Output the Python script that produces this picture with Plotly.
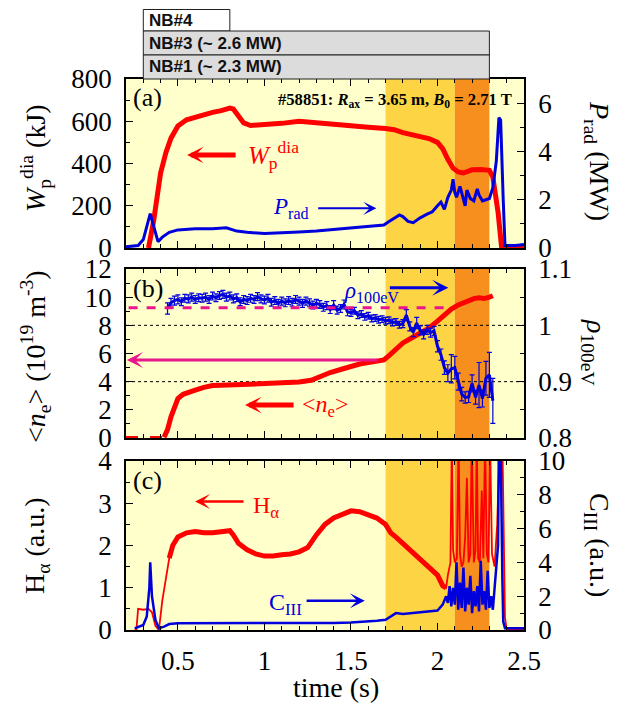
import plotly.graph_objects as go

# ------------------------------------------------------------------ data
# (a) stored energy W_p^dia (kJ) and radiated power P_rad (MW)
t_w = [0.33, 0.36, 0.40, 0.43, 0.46, 0.50, 0.55, 0.60, 0.65, 0.70, 0.75, 0.80,
       0.82, 0.85, 0.88, 0.92, 1.00, 1.10, 1.20, 1.30, 1.40, 1.50, 1.60, 1.70,
       1.75, 1.80, 1.85, 1.90, 1.95, 2.00, 2.03, 2.06, 2.09, 2.12, 2.15, 2.20,
       2.25, 2.30, 2.32, 2.35, 2.37, 2.40, 2.50]
w_dia = [0, 130, 355, 450, 520, 578, 607, 620, 632, 642, 650, 662,
         658, 625, 592, 580, 582, 590, 600, 592, 585, 578, 572, 566,
         560, 546, 536, 528, 518, 500, 470, 420, 378, 360, 355, 370,
         372, 368, 335, 170, 8, 0, 0]

t_p = [0.20, 0.27, 0.30, 0.32, 0.34, 0.36, 0.385, 0.41, 0.45, 0.50, 0.60, 0.70,
       0.78, 0.84, 0.90, 1.00, 1.10, 1.20, 1.30, 1.40, 1.50, 1.60, 1.69, 1.72,
       1.75, 1.78, 1.80, 1.83, 1.86, 1.90, 1.94, 1.97, 2.00, 2.02, 2.04, 2.06,
       2.08, 2.09, 2.10, 2.11, 2.13, 2.15, 2.16, 2.17, 2.19, 2.21, 2.23, 2.24,
       2.26, 2.28, 2.30, 2.32, 2.34, 2.355, 2.365, 2.38, 2.39, 2.45, 2.50]
p_rad = [0.05, 0.10, 0.35, 0.90, 1.42, 0.90, 0.26, 0.45, 0.65, 0.75, 0.80, 0.80,
         0.84, 0.70, 0.65, 0.60, 0.62, 0.66, 0.70, 0.76, 0.82, 0.88, 0.95, 1.10,
         1.25, 1.37, 1.30, 1.10, 1.05, 1.25, 1.40, 1.50, 1.75, 1.90, 1.60, 2.10,
         2.40, 2.85, 2.30, 2.10, 2.55, 2.00, 1.75, 2.40, 2.05, 1.95, 2.45, 2.20,
         1.95, 2.00, 2.05, 2.50, 3.60, 5.40, 5.30, 2.00, 0.10, 0.10, 0.15]

# (b) line-averaged density <n_e> (1e19 m^-3) and rho_100eV
t_ne_pre = [0.20, 0.42]
ne_pre = [0.0, 0.0]
t_ne = [0.42, 0.44, 0.46, 0.48, 0.50, 0.53, 0.56, 0.60, 0.65, 0.70, 0.75, 0.80,
        0.90, 1.00, 1.10, 1.20, 1.27, 1.32, 1.38, 1.45, 1.50, 1.55, 1.60, 1.65,
        1.69, 1.72, 1.76, 1.80, 1.85, 1.90, 1.95, 2.00, 2.05, 2.08, 2.12, 2.17,
        2.21, 2.24, 2.27, 2.30, 2.32]
ne = [0.05, 0.60, 1.50, 2.30, 2.80, 3.10, 3.25, 3.40, 3.60, 3.72, 3.74, 3.76,
      3.80, 3.85, 3.90, 3.97, 4.10, 4.35, 4.65, 4.90, 5.10, 5.25, 5.35, 5.45,
      5.55, 5.85, 6.30, 6.75, 7.10, 7.45, 7.80, 8.30, 8.85, 9.15, 9.45, 9.70,
      9.90, 9.95, 9.90, 10.00, 10.10]

t_rho = [0.44, 0.46, 0.48, 0.50, 0.52, 0.54, 0.56, 0.58, 0.60, 0.62, 0.64, 0.66,
         0.68, 0.70, 0.72, 0.74, 0.76, 0.78, 0.80, 0.82, 0.84, 0.86, 0.88, 0.90,
         0.92, 0.94, 0.96, 0.98, 1.00, 1.02, 1.04, 1.06, 1.08, 1.10, 1.12, 1.14,
         1.16, 1.18, 1.20, 1.22, 1.24, 1.26, 1.28, 1.30, 1.32, 1.34, 1.36, 1.38,
         1.40, 1.42, 1.44, 1.46, 1.48, 1.50, 1.52, 1.54, 1.56, 1.58, 1.60, 1.62,
         1.64, 1.66, 1.68, 1.70, 1.72, 1.74, 1.76, 1.78, 1.80, 1.82, 1.84, 1.86,
         1.88, 1.90, 1.92, 1.94, 1.96, 1.98, 2.00, 2.02, 2.04, 2.06, 2.08, 2.10,
         2.12, 2.14, 2.16, 2.18, 2.20, 2.22, 2.24, 2.26, 2.28, 2.30, 2.32]
rho = [1.030, 1.040, 1.044, 1.046, 1.042, 1.048, 1.047, 1.050, 1.046, 1.049, 1.048, 1.050,
       1.046, 1.052, 1.049, 1.053, 1.055, 1.050, 1.052, 1.047, 1.049, 1.042, 1.046, 1.044,
       1.048, 1.046, 1.051, 1.047, 1.045, 1.048, 1.041, 1.044, 1.039, 1.043, 1.040, 1.044,
       1.041, 1.046, 1.043, 1.039, 1.043, 1.040, 1.036, 1.039, 1.037, 1.032, 1.035, 1.028,
       1.036, 1.027, 1.030, 1.037, 1.024, 1.022, 1.026, 1.018, 1.020, 1.015, 1.017, 1.012,
       1.013, 1.010, 1.011, 1.008, 1.009, 1.005, 1.006, 1.001, 1.003, 1.018, 0.998, 0.988,
       1.004, 0.991, 0.984, 0.992, 0.987, 0.990, 0.963, 0.948, 0.925, 0.915, 0.923, 0.925,
       0.900, 0.878, 0.872, 0.873, 0.897, 0.872, 0.894, 0.870, 0.906, 0.912, 0.866]
rho_err = [0.010, 0.008, 0.008, 0.008, 0.007, 0.007, 0.007, 0.007, 0.007, 0.007, 0.007, 0.007,
           0.007, 0.007, 0.007, 0.007, 0.007, 0.007, 0.007, 0.007, 0.007, 0.007, 0.007, 0.007,
           0.007, 0.007, 0.007, 0.007, 0.007, 0.007, 0.007, 0.007, 0.007, 0.007, 0.007, 0.007,
           0.007, 0.007, 0.007, 0.007, 0.007, 0.007, 0.007, 0.007, 0.007, 0.007, 0.007, 0.007,
           0.008, 0.007, 0.007, 0.008, 0.007, 0.006, 0.006, 0.006, 0.006, 0.006, 0.006, 0.006,
           0.006, 0.006, 0.006, 0.006, 0.006, 0.006, 0.006, 0.006, 0.007, 0.010, 0.008, 0.008,
           0.010, 0.008, 0.008, 0.008, 0.008, 0.008, 0.010, 0.010, 0.012, 0.015, 0.025, 0.020,
           0.015, 0.012, 0.010, 0.010, 0.015, 0.012, 0.040, 0.015, 0.030, 0.040, 0.040]

# (c) H_alpha (a.u.) and C_III (a.u.)
t_ha = [0.25, 0.26, 0.27, 0.30, 0.33, 0.35, 0.37, 0.39, 0.41, 0.43, 0.45, 0.47,
        0.50, 0.55, 0.60, 0.65, 0.70, 0.75, 0.80, 0.82, 0.85, 0.90, 0.95, 1.00,
        1.05, 1.10, 1.15, 1.20, 1.25, 1.30, 1.35, 1.40, 1.45, 1.50, 1.55, 1.60,
        1.65, 1.70, 1.73, 1.76, 1.80, 1.85, 1.90, 1.95, 2.00, 2.03, 2.05, 2.06,
        2.075, 2.083, 2.09, 2.10, 2.112, 2.122, 2.13, 2.14, 2.15, 2.16, 2.17, 2.18,
        2.19, 2.198, 2.21, 2.22, 2.227, 2.235, 2.245, 2.256, 2.265, 2.275, 2.285, 2.295,
        2.304, 2.315, 2.33, 2.345, 2.36, 2.375, 2.39, 2.40, 2.50]
h_alpha = [0.0, 0.0, 0.50, 0.48, 0.50, 0.42, 0.10, 0.0, 0.70, 1.20, 1.70, 2.00,
           2.20, 2.30, 2.33, 2.30, 2.30, 2.32, 2.35, 2.25, 2.05, 1.90, 1.80, 1.75,
           1.75, 1.78, 1.80, 1.85, 1.95, 2.25, 2.50, 2.65, 2.75, 2.82, 2.80, 2.72,
           2.65, 2.50, 2.30, 2.20, 2.05, 1.85, 1.65, 1.50, 1.30, 1.05, 1.00, 1.30,
           1.60, 4.50, 1.90, 1.60, 1.70, 4.50, 1.80, 1.50, 1.60, 2.20, 3.60, 1.60,
           1.80, 4.50, 1.60, 1.90, 4.50, 1.70, 1.60, 3.30, 1.70, 4.50, 1.80, 1.60,
           4.50, 1.80, 1.50, 2.50, 4.50, 4.50, 0.30, 0.0, 0.0]

t_c3 = [0.25, 0.30, 0.32, 0.335, 0.34, 0.35, 0.37, 0.39, 0.42, 0.45, 0.50, 0.60,
        0.80, 1.00, 1.20, 1.40, 1.50, 1.60, 1.65, 1.70, 1.73, 1.76, 1.80, 1.85,
        1.90, 1.95, 2.00, 2.03, 2.05, 2.06, 2.07, 2.08, 2.09, 2.10, 2.11, 2.12,
        2.13, 2.14, 2.15, 2.16, 2.17, 2.18, 2.19, 2.20, 2.21, 2.22, 2.23, 2.24,
        2.25, 2.26, 2.27, 2.28, 2.29, 2.30, 2.31, 2.32, 2.33, 2.34, 2.35, 2.355,
        2.365, 2.375, 2.38, 2.39, 2.50]
c_iii = [0.10, 0.30, 0.80, 2.50, 4.00, 2.00, 0.60, 0.10, 0.20, 0.35, 0.40, 0.40,
         0.38, 0.38, 0.38, 0.42, 0.45, 0.50, 0.55, 0.60, 0.80, 1.00, 0.95, 1.00,
         1.05, 1.10, 1.15, 1.50, 2.00, 1.60, 2.60, 1.40, 2.50, 1.50, 4.00, 1.20,
         2.80, 1.30, 3.70, 1.10, 2.50, 1.50, 3.20, 1.00, 2.30, 1.40, 2.60, 1.10,
         4.10, 1.50, 2.30, 1.20, 3.50, 1.30, 2.00, 1.20, 2.50, 3.50, 5.00, 11.0,
         11.0, 3.00, 0.50, 0.10, 0.10]

# heating / phase timing (s)
phase_edges = [1.7, 2.1, 2.3]
nb_names = ["NB#4", "NB#3 (~ 2.6 MW)", "NB#1 (~ 2.3 MW)"]
nb_on = [0.3, 0.3, 0.3]
nb_off = [0.8, 2.3, 2.3]

# axis ticks
x_ticks = [0.5, 1.0, 1.5, 2.0, 2.5]
x_ticktext = ["0.5", "1", "1.5", "2", "2.5"]
rho_ticks = [0.8, 0.9, 1.0, 1.1]
rho_ticktext = ["0.8", "0.9", "1", "1.1"]

# ------------------------------------------------------------------ layout helpers
# the page body keeps the browser's default 8 px margin, so the figure is
# made 8 px smaller and every window-pixel position is shifted accordingly
WIN_W, WIN_H, OFF = 634, 704, 8
FW, FH = WIN_W - OFF, WIN_H - OFF
def px_x(p):
    return (p - OFF) / FW
def px_y(p):
    return 1 - (p - OFF) / FH

X_DOM = [px_x(126), px_x(524)]
DOM_A = [px_y(248), px_y(79)]
DOM_B = [px_y(438), px_y(269)]
DOM_C = [px_y(630), px_y(461)]

SERIF = "Liberation Serif"
SANS = "Liberation Sans"
RED = "#FF0000"
BLUE = "#0000DC"
MAG = "#E8168A"
BG = "#FFFFCC"
YEL = "#FDD444"
ORA = "#F78F1E"

fig = go.Figure()

# ------------------------------------------------------------------ traces
fig.add_trace(go.Scatter(x=t_w, y=w_dia, xaxis="x", yaxis="y", mode="lines",
                         line=dict(color=RED, width=5)))
fig.add_trace(go.Scatter(x=t_p, y=p_rad, xaxis="x", yaxis="y2", mode="lines",
                         line=dict(color=BLUE, width=3)))

fig.add_trace(go.Scatter(x=t_ne_pre, y=ne_pre, xaxis="x2", yaxis="y3", mode="lines",
                         line=dict(color=RED, width=4, dash="dash")))
fig.add_trace(go.Scatter(x=t_ne, y=ne, xaxis="x2", yaxis="y3", mode="lines",
                         line=dict(color=RED, width=5)))
fig.add_trace(go.Scatter(x=t_rho, y=rho, xaxis="x2", yaxis="y4", mode="lines",
                         line=dict(color=BLUE, width=3),
                         error_y=dict(type="data", array=rho_err, color=BLUE,
                                      thickness=1.2, width=2.5)))

# H_alpha: thin full trace + thicker band for the noisy steady phase
fig.add_trace(go.Scatter(x=t_ha, y=h_alpha, xaxis="x3", yaxis="y5", mode="lines",
                         line=dict(color=RED, width=1.8)))
i0, i1 = t_ha.index(0.45), t_ha.index(2.05)
fig.add_trace(go.Scatter(x=t_ha[i0:i1 + 1], y=h_alpha[i0:i1 + 1], xaxis="x3", yaxis="y5",
                         mode="lines", line=dict(color=RED, width=5)))
fig.add_trace(go.Scatter(x=t_c3, y=c_iii, xaxis="x3", yaxis="y6", mode="lines",
                         line=dict(color=BLUE, width=2.5)))

# ------------------------------------------------------------------ axes
def ax_common():
    return dict(showline=True, linecolor="black", linewidth=1.5, ticks="inside",
                ticklen=7, tickwidth=1.2, tickcolor="black", showgrid=False,
                zeroline=False, automargin=False,
                tickfont=dict(family=SERIF, size=27, color="black"))

def xax(anchor, labels):
    d = ax_common()
    d.update(domain=X_DOM, anchor=anchor, range=[0.2, 2.5], mirror="ticks",
             tickmode="array", tickvals=x_ticks, ticktext=x_ticktext,
             showticklabels=labels, ticklabelstandoff=6,
             minor=dict(tickmode="linear", tick0=0.2, dtick=0.1, ticks="inside",
                        ticklen=4, tickcolor="black", tickwidth=1))
    return d

def yax(dom, anchor, rng, dtick, mdtick, side="left", overlay=None, **kw):
    d = ax_common()
    d.update(anchor=anchor, range=rng, side=side, ticklabelstandoff=7,
             minor=dict(tickmode="linear", tick0=rng[0], dtick=mdtick, ticks="inside",
                        ticklen=4, tickcolor="black", tickwidth=1))
    if dtick is not None:
        d.update(tick0=rng[0], dtick=dtick)
    if overlay:
        d.update(overlaying=overlay)
    else:
        d.update(domain=dom)
    d.update(kw)
    return d

fig.update_layout(
    xaxis=xax("y", False),
    xaxis2=xax("y3", False),
    xaxis3=xax("y5", True),
    yaxis=yax(DOM_A, "x", [0, 800], 200, 100),
    yaxis2=yax(None, "x", [0, 7], 2, 1, side="right", overlay="y"),
    yaxis3=yax(DOM_B, "x2", [0, 12], 2, 1),
    yaxis4=yax(None, "x2", [0.8, 1.1], None, 0.05, side="right", overlay="y3",
               tickmode="array", tickvals=rho_ticks, ticktext=rho_ticktext),
    yaxis5=yax(DOM_C, "x3", [0, 4], 1, 0.5),
    yaxis6=yax(None, "x3", [0, 10], 2, 1, side="right", overlay="y5"),
)
fig.update_xaxes(matches="x")

# ------------------------------------------------------------------ shapes
shapes = []
for yd in ["y domain", "y3 domain", "y5 domain"]:
    shapes.append(dict(type="rect", xref="x", yref=yd, x0=phase_edges[0], x1=phase_edges[1],
                       y0=0, y1=1, fillcolor=YEL, line=dict(width=0), layer="below"))
    shapes.append(dict(type="rect", xref="x", yref=yd, x0=phase_edges[1], x1=phase_edges[2],
                       y0=0, y1=1, fillcolor=ORA, line=dict(width=0), layer="below"))
for lvl in [4, 8]:
    shapes.append(dict(type="line", xref="x2 domain", yref="y3", x0=0, x1=1, y0=lvl, y1=lvl,
                       line=dict(color="black", width=1, dash="dot"), layer="below"))
# magenta guide lines in (b)
shapes.append(dict(type="line", xref="x2", yref="y3", x0=0.215, x1=2.06, y0=9.25, y1=9.25,
                   line=dict(color=MAG, width=3, dash="dash")))

# NB bars above panel (a)
nb_rows = [(9.5, 31), (31, 55), (55, 79)]
nb_fill = ["white", "#DCDCDC", "#DCDCDC"]
annotations = []
for name, on, off, (ytop, ybot), fc in zip(nb_names, nb_on, nb_off, nb_rows, nb_fill):
    shapes.append(dict(type="rect", xref="x", yref="paper", x0=on, x1=off,
                       y0=px_y(ybot), y1=px_y(ytop), fillcolor=fc,
                       line=dict(color="#222222", width=1)))
    annotations.append(dict(xref="x", yref="paper", x=on, y=px_y((ytop + ybot) / 2),
                            xanchor="left", yanchor="middle", xshift=4, showarrow=False,
                            text="<b>" + name + "</b>",
                            font=dict(family=SANS, size=17, color="#111111")))

# ------------------------------------------------------------------ text labels
def lab(text, x, y, xref, yref, color="black", size=26, xanchor="left"):
    annotations.append(dict(text=text, x=x, y=y, xref=xref, yref=yref, showarrow=False,
                            xanchor=xanchor, yanchor="middle",
                            font=dict(family=SERIF, size=size, color=color)))

lab("(a)", 0.228, 712, "x", "y")
lab("(b)", 0.228, 10.6, "x2", "y3")
lab("(c)", 0.228, 3.55, "x3", "y5")
lab("<b>#58851: <i>R</i><sub>ax</sub> = 3.65 m, <i>B</i><sub>0</sub> = 2.71 T</b>",
    2.44, 700, "x", "y", size=16.6, xanchor="right")
lab("<i>W</i><sub>p</sub><sup>dia</sup>", 0.895, 440, "x", "y", color=RED, size=25)
lab("<i>P</i><sub>rad</sub>", 1.04, 190, "x", "y", color=BLUE, size=23)
lab("<i>ρ</i><sub>100eV</sub>", 1.45, 10.4, "x2", "y3", color=BLUE, size=23)
lab("&lt;<i>n</i><sub>e</sub>&gt;", 1.205, 2.3, "x2", "y3", color=RED, size=24)
lab("H<sub>α</sub>", 0.925, 2.92, "x3", "y5", color=RED, size=24)
lab("C<sub>III</sub>", 1.012, 0.62, "x3", "y5", color=BLUE, size=24)

# arrows
def arrow(x_head, x_tail, y, xref, yref, color, width, size):
    annotations.append(dict(text="", x=x_head, y=y, ax=x_tail, ay=y, xref=xref, yref=yref,
                            axref=xref, ayref=yref, showarrow=True, arrowhead=3,
                            arrowsize=size, arrowwidth=width, arrowcolor=color, standoff=0))

arrow(0.553, 0.842, 440, "x", "y", RED, 5, 0.55)
arrow(1.647, 1.302, 188, "x", "y", BLUE, 2, 1.1)
arrow(2.063, 1.716, 10.67, "x2", "y3", BLUE, 3, 0.9)
arrow(0.888, 1.177, 2.34, "x2", "y3", RED, 5, 0.55)
arrow(0.205, 0.235, 9.25, "x2", "y3", MAG, 3, 0.9)
arrow(0.205, 1.66, 5.54, "x2", "y3", MAG, 3, 0.9)
arrow(0.599, 0.888, 3.04, "x3", "y5", RED, 2.5, 1.0)
arrow(1.58, 1.235, 0.69, "x3", "y5", BLUE, 2.5, 1.0)

# axis titles
def title(text, xp, yp, angle):
    annotations.append(dict(text=text, x=px_x(xp), y=px_y(yp), xref="paper", yref="paper",
                            showarrow=False, textangle=angle, xanchor="center",
                            yanchor="middle", font=dict(family=SERIF, size=28, color="black")))

title("<i>W</i><sub>p</sub><sup>dia</sup> (kJ)", 36, 158, -90)
title("<i>P</i><sub>rad</sub> (MW)", 598, 161, 90)
title("&lt;<i>n</i><sub>e</sub>&gt; (10<sup>19</sup> m<sup>-3</sup>)", 36, 357, -90)
title("<i>ρ</i><sub>100eV</sub>", 594, 352, 90)
title("H<sub>α</sub> (a.u.)", 36, 546, -90)
title("C<sub>III</sub> (a.u.)", 598, 545, 90)
title("time (s)", 336, 687, 0)

fig.update_layout(
    width=FW, height=FH, autosize=False,
    margin=dict(l=0, r=0, t=0, b=0, pad=0, autoexpand=False),
    paper_bgcolor="white", plot_bgcolor=BG,
    showlegend=False,
    shapes=shapes, annotations=annotations,
)

fig.write_html("out.html")
